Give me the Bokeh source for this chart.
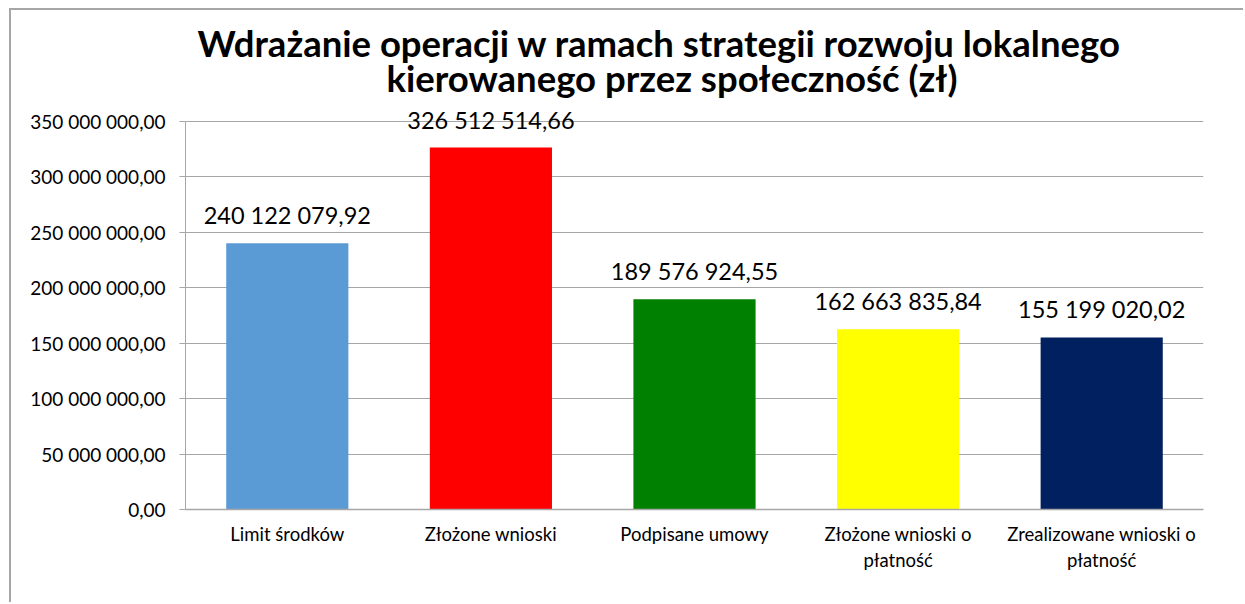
from bokeh.plotting import figure
from bokeh.models import ColumnDataSource, FactorRange, Range1d, FixedTicker, LabelSet, Title
from bokeh.core.properties import value
from bokeh.embed import file_html
from bokeh.resources import INLINE

categories = ["Limit środków", "Złożone wnioski", "Podpisane umowy",
              "Złożone wnioski o\npłatność", "Zrealizowane wnioski o\npłatność"]
values = [240122079.92, 326512514.66, 189576924.55, 162663835.84, 155199020.02]
value_labels = ["240 122 079,92", "326 512 514,66", "189 576 924,55",
                "162 663 835,84", "155 199 020,02"]
colors = ["#5B9BD5", "#FF0000", "#008000", "#FFFF00", "#002060"]
y_ticks = [0, 50e6, 100e6, 150e6, 200e6, 250e6, 300e6, 350e6]
y_tick_labels = ["0,00", "50 000 000,00", "100 000 000,00", "150 000 000,00",
                 "200 000 000,00", "250 000 000,00", "300 000 000,00", "350 000 000,00"]
title_line1 = "Wdrażanie operacji w ramach strategii rozwoju lokalnego"
title_line2 = "kierowanego przez społeczność (zł)"

src = ColumnDataSource(dict(cat=categories, val=values, lab=value_labels, col=colors))

OX, OY = 11, 10            # canvas origin on the page (after margin)
W, H = 1245 - OX, 604 - OY
frame_left = 185 - OX
frame_right = 1203 - OX
frame_top = 100 - OY
frame_bottom = 509 - OY    # value 0
axis_top = 121 - OY        # value 350M
y_end = 350e6 * (frame_bottom - frame_top) / (frame_bottom - axis_top)

p = figure(x_range=FactorRange(*categories), y_range=Range1d(0, y_end),
           width=W, height=H, output_backend="svg", toolbar_location=None,
           min_border_left=frame_left, min_border_right=W - frame_right,
           min_border_top=frame_top, min_border_bottom=H - frame_bottom,
           title=title_line1)
p.styles = {"margin-left": "11px", "margin-top": "10px",
            "box-shadow": "-2px -2px 0px 0px #a6a6a6"}

p.title.text_font = "Lato"
p.title.text_font_style = "bold"
p.title.text_font_size = "36.5px"
p.title.align = "left"
p.title.offset = 12
p.title.standoff = -22
p.title.text_color = "#000000"
t2 = Title(text=title_line2, text_font="Lato", text_font_style="bold",
           text_font_size="36.5px", align="left", offset=201, standoff=1,
           text_color="#000000")
p.add_layout(t2, "above")

p.vbar(x="cat", top="val", width=0.6, color="col", source=src, line_color=None)

labels = LabelSet(x="cat", y="val", text="lab", source=src, text_align="center",
                  text_baseline="middle", y_offset=28, text_font=value("Lato"),
                  text_font_size="23.5px", text_color="#000000")
p.add_layout(labels)

p.outline_line_color = None
p.xgrid.grid_line_color = None
p.ygrid.grid_line_color = "#a6a6a6"
p.ygrid.grid_line_width = 1

p.yaxis.ticker = FixedTicker(ticks=y_ticks)
p.yaxis.bounds = (0, 350e6)
p.yaxis.major_label_overrides = {t: s for t, s in zip(y_ticks, y_tick_labels)}
p.yaxis.minor_tick_line_color = None
p.yaxis.major_tick_in = 0
p.yaxis.major_tick_out = 6
p.yaxis.major_tick_line_color = "#a6a6a6"
p.yaxis.axis_line_color = "#a6a6a6"
p.yaxis.major_label_text_font = "Lato"
p.yaxis.major_label_text_font_size = "19px"
p.yaxis.major_label_text_color = "#000000"
p.yaxis.major_label_standoff = 14

p.xaxis.major_tick_line_color = None
p.xaxis.major_tick_out = 0
p.xaxis.axis_line_color = "#a6a6a6"
p.xaxis.axis_line_width = 1.5
p.xaxis.major_label_text_font = "Lato"
p.xaxis.major_label_text_font_size = "18.5px"
p.xaxis.major_label_text_color = "#000000"
p.xaxis.major_label_standoff = 13

open("out.html", "w").write(file_html(p, INLINE))
